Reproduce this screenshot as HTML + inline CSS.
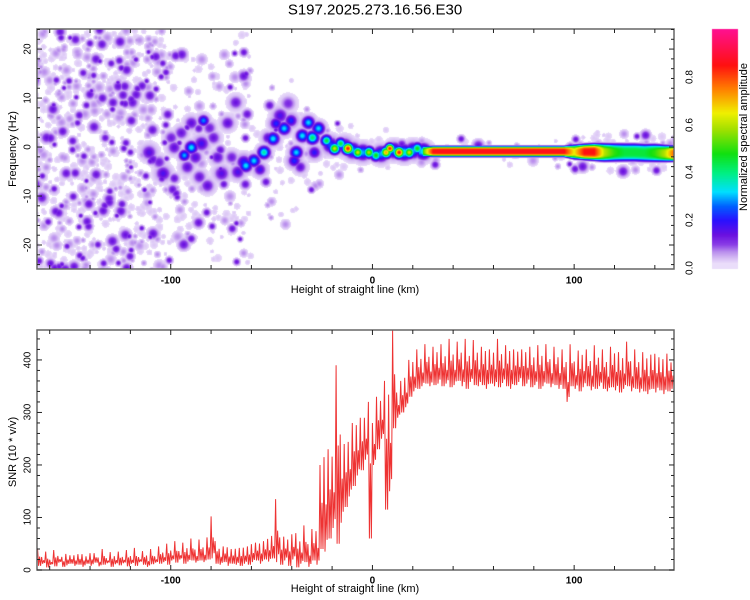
<!DOCTYPE html>
<html><head><meta charset="utf-8">
<style>
body{margin:0;background:#fff;}
#root{position:relative;width:750px;height:600px;overflow:hidden;font-family:"Liberation Sans",sans-serif;color:#000;}
.t{position:absolute;white-space:nowrap;font-size:10px;font-weight:bold;}
.rot{transform:translate(-50%,-50%) rotate(-90deg);}
.hc{transform:translate(-50%,-50%);}
canvas,svg{position:absolute;left:0;top:0;}
</style></head>
<body>
<div id="root">
<canvas id="heat" width="750" height="600"></canvas>
<svg id="svg" width="750" height="600"></svg>
<div class="t hc" style="left:375px;top:10px;font-size:15px;font-weight:normal">S197.2025.273.16.56.E30</div>
<div class="t rot" style="left:13px;top:149px;font-size:11px;font-weight:normal">Frequency (Hz)</div>
<div class="t hc" style="left:355px;top:290px;font-size:11px;font-weight:normal">Height of straight line (km)</div>
<div class="t rot" style="left:13px;top:452px;font-size:11px;font-weight:normal">SNR (10 * v/v)</div>
<div class="t hc" style="left:355px;top:589px;font-size:11px;font-weight:normal">Height of straight line (km)</div>
<div class="t rot" style="left:744px;top:137px;font-size:11px;font-weight:normal">Normalized spectral amplitude</div>
<div id="labels"></div>
</div>
<script>
// ---------- data ----------
const xTicks=[-100,0,100];
const hzTicks=[-20,-10,0,10,20];
const snrTicks=[0,100,200,300,400];
const cbTicks=[0.0,0.2,0.4,0.6,0.8];
const cbTickLabels=["0.0","0.2","0.4","0.6","0.8"];
// SNR envelope per 2 km bin starting at -166
const snrStartKm=-166;
const snrHi=[40,28,35,22,38,30,25,36,28,33, 30,36,26,38,32,28,40,25,34,30, 35,28,38,30,42,27,36,33,40,29,
 45,38,50,42,55,40,52,48,60,45, 58,50,62,122,55,48,45,52,40,48, 42,50,45,58,52,60,55,70,65,165,
 62,75,58,80,70,65,85,60,78,90, 200,260,230,250,390,300,240,270,280,300, 290,310,320,300,330,340,360,380,457,350,
 360,380,400,410,420,415,430,420,425,430, 430,420,440,425,435,430,440,420,438,430, 425,435,420,430,440,425,428,435,420,430,
 420,430,425,418,428,422,430,415,425,420, 420,415,430,410,418,425,420,412,428,418, 420,410,425,430,415,418,435,412,420,410,
 415,420,410,430,405,418,412,408,420];
const snrLo=[8,12,5,10,7,14,6,9,12,8, 10,6,12,8,14,7,10,13,6,11, 9,13,7,12,8,15,10,6,11,14,
 12,15,10,18,14,20,12,16,18,14, 18,15,20,22,12,10,15,8,12,10, 8,12,10,15,18,12,20,16,22,15,
 10,18,8,20,5,12,15,6,18,10, 40,35,60,80,50,90,120,140,160,180, 190,210,60,200,230,250,115,150,270,290,
 300,310,330,340,345,350,355,350,352,355, 350,355,348,352,360,350,345,358,352,350, 352,345,355,350,348,356,350,345,352,358,
 350,355,348,352,345,350,355,348,352,345, 345,320,350,345,340,348,350,342,345,350, 345,340,348,342,338,345,350,340,345,338,
 340,335,345,338,342,335,340,345,350];
// spectral blobs: km, Hz, amplitude, size(px)
const blobKm=[-111,-104,-98.5,-85,-82,-75,-72,-68,-67,-106,-95,-92,-88,-79,-77,-70,-100,-90,-86,-81,
 -90,-93.5,-84,-63,
 -64,-59,-54,-49.5,-48,-44,-40.6,-35,-32,-30,-27,-38,-39,-29,-46,-42,-56,-52,-36,
 -23,-19,-16,-12.4,-7.5,-2,1.5,6.5,8.4,13,18,22,
 -21,-14,-10,-5,4,10.5,15.5,20,25];
const blobHz=[-1,-5.3,0,0.8,-7.8,-5.3,5,9.2,-5,-3,3,-4,-2,2,-2,-2,2,5,-6,4,
 0,-1.6,5.5,-3.7,
 -3,-2.7,-1,1.8,4.9,3.9,5.5,2.4,5.1,2,3.9,-1,-2.7,-1,6.5,9,-4.5,2,-4,
 1.4,-0.2,0.8,-0.2,-1,-1,-1.6,-1,-0.2,-1,-1,-0.2,
 0.5,0.3,-0.6,-1,-1.3,-0.6,-1,-0.6,-0.8];
const blobAmp=[0.16,0.17,0.15,0.18,0.15,0.16,0.15,0.14,0.17,0.13,0.14,0.15,0.16,0.14,0.15,0.13,0.13,0.15,0.14,0.13,
 0.33,0.30,0.28,0.33,
 0.22,0.32,0.38,0.33,0.22,0.32,0.22,0.33,0.32,0.42,0.32,0.32,0.22,0.2,0.17,0.12,0.18,0.16,0.15,
 0.45,0.62,0.45,0.85,0.62,0.6,0.48,0.72,0.85,0.85,0.62,0.48,
 0.25,0.25,0.3,0.3,0.3,0.3,0.35,0.3,0.35];
const blobSize=[5,5,4.5,5,4.5,5,4.5,4.5,4.5,4.5,4.5,4.5,4.5,4.5,4.5,4.5,4.5,4.5,4.5,4.5,
 4,3.5,3.5,4,
 4.5,4,4,4,4,4,4,4,4,4,4,4,4,4,5,5,4,4,4,
 3.5,3.5,3.5,3.5,3.5,3.5,3.5,3.5,3,3.5,3.5,3.5,
 5,5,5,5,5,5,5,5,5];
// continuous ridge
const bandKm=[25,30,35,40,45,50,55,60,65,70,75,80,85,90,95,100,105,110,115,120,125,130,135,140,145,150];
const bandHz=[-0.8,-0.8,-0.8,-0.8,-0.8,-0.8,-0.8,-0.8,-0.8,-0.8,-0.8,-0.8,-0.8,-0.8,-0.8,-0.9,-0.9,-0.9,-1,-1,-1,-1,-1.1,-1.1,-1.2,-1.2];
const bandAmp=[0.5,0.85,0.86,0.86,0.86,0.86,0.86,0.86,0.86,0.86,0.86,0.86,0.86,0.86,0.86,0.65,0.85,0.85,0.6,0.5,0.45,0.45,0.45,0.5,0.6,0.8];
const bandHalf=[0.9,0.9,0.9,0.9,0.9,0.9,0.9,0.9,0.9,0.9,0.9,0.9,0.9,0.9,0.9,1.2,1.3,1.4,1.5,1.5,1.5,1.5,1.5,1.5,1.4,1.3];
// background speckle density per 10 km bin from -170
const speckleBinKm=[-170,-160,-150,-140,-130,-120,-110,-100,-90,-80,-70,-60,-50,-40,-30,-20,-10,0,10,20,30,40,50,60,70,80,90,100,110,120,130,140];
const speckleCount=[115,130,130,130,130,120,95,55,40,40,55,18,18,14,12,10,8,6,5,4,4,3,3,3,3,3,8,12,16,16,16,16];
const speckleSpread=[25,25,25,25,25,25,25,20,20,22,24,15,15,12,8,6,5,5,3,3,3,3,3,3,3,3,3,3.5,4,4,4,4];

// ---------- axes ----------
const PX0=37,PX1=674,KM0=-166.3,KM1=149.5;
const TY0=29,TY1=269,HZ0=-24.9,HZ1=24.1;
const BY0=330,BY1=570,S0=0,S1=457;
const xs=k=>PX0+(k-KM0)/(KM1-KM0)*(PX1-PX0);
const yHz=h=>TY1-(h-HZ0)/(HZ1-HZ0)*(TY1-TY0);
const ySnr=s=>BY1-(s-S0)/(S1-S0)*(BY1-BY0);
const CBX0=712,CBX1=738,CBY0=29,CBY1=268;
const yCb=v=>CBY1-v*(CBY1-CBY0);

const stops=[[0.015,[239,230,251]],[0.04,[217,194,245]],[0.07,[185,141,237]],[0.10,[138,61,230]],[0.14,[106,16,224]],
 [0.2,[42,16,255]],[0.26,[0,96,255]],[0.32,[0,224,255]],[0.4,[0,240,128]],[0.48,[16,224,16]],[0.58,[160,224,0]],
 [0.65,[240,240,0]],[0.75,[255,128,0]],[0.85,[255,16,16]],[1.0,[255,16,144]]];
function cmap(v){
  if(v<0.02) return null;
  for(let i=1;i<stops.length;i++){ if(v<=stops[i][0]){const a=stops[i-1],b=stops[i];const t=(v-a[0])/(b[0]-a[0]);
    return [0,1,2].map(j=>Math.round(a[1][j]+(b[1][j]-a[1][j])*t));}}
  return stops[stops.length-1][1];
}

// ---------- heatmap ----------
const W=PX1-PX0,H=TY1-TY0;
const grid=new Float32Array(W*H);
function stamp(cx,cy,amp,s,p){
  const r=Math.ceil(s*3);
  for(let y=Math.max(0,Math.floor(cy-r));y<=Math.min(H-1,cy+r);y++)
   for(let x=Math.max(0,Math.floor(cx-r));x<=Math.min(W-1,cx+r);x++){
    const d=Math.hypot(x-cx,y-cy)/s;const v=amp*Math.exp(-Math.pow(d,p)/2);
    const i=y*W+x; if(v>grid[i]) grid[i]=v;
   }
}
// speckle texture (deterministic)
let seed=12345;const rnd=()=>{seed=(seed*1103515245+12345)%2147483648;return seed/2147483648;};
speckleBinKm.forEach((k0,bi)=>{
  for(let n=0;n<speckleCount[bi];n++){
    const k=k0+rnd()*10; const hz=-0.9+(rnd()*2-1)*speckleSpread[bi];
    const r=rnd(); const amp=r<0.6?0.035:(r<0.86?0.07:0.14);
    stamp(xs(k)-PX0,yHz(hz)-TY0,amp,1.8+rnd()*2.2,2);
  }
});
blobKm.forEach((k,i)=>{
  const cx=xs(k)-PX0,cy=yHz(blobHz[i])-TY0;
  stamp(cx,cy,Math.min(0.11,blobAmp[i]*0.5),blobSize[i]*1.5,2);
  stamp(cx,cy,blobAmp[i],blobSize[i],2);
});
// ridge
for(let x=0;x<W;x++){
  const km=KM0+(x+0.5)/W*(KM1-KM0);
  if(km<bandKm[0]-2) continue;
  let j=0; while(j<bandKm.length-2&&km>bandKm[j+1]) j++;
  const t=Math.max(0,Math.min(1,(km-bandKm[j])/(bandKm[j+1]-bandKm[j])));
  const lerp=a=>a[j]+(a[j+1]-a[j])*t;
  const amp=lerp(bandAmp)*(km<bandKm[0]?0.6:1), c=yHz(lerp(bandHz))-TY0, w=lerp(bandHalf)*(H/(HZ1-HZ0));
  for(let y=Math.max(0,Math.floor(c-w*3));y<=Math.min(H-1,c+w*3);y++){
    const d=Math.abs(y-c)/w; const v=amp*Math.exp(-Math.pow(d,4)*0.7);
    const i=y*W+x; if(v>grid[i]) grid[i]=v;
  }
}
const cv=document.getElementById('heat');const ctx=cv.getContext('2d');
const img=ctx.createImageData(W,H);
for(let i=0;i<W*H;i++){const c=cmap(grid[i]);const o=i*4;
  if(c){img.data[o]=c[0];img.data[o+1]=c[1];img.data[o+2]=c[2];img.data[o+3]=255;}
  else{img.data[o]=255;img.data[o+1]=255;img.data[o+2]=255;img.data[o+3]=255;}}
ctx.putImageData(img,PX0,TY0);
// colorbar
for(let y=CBY0;y<=CBY1;y++){const v=(CBY1-y)/(CBY1-CBY0);const c=cmap(Math.max(v,0.021))||[255,255,255];
  ctx.fillStyle=`rgb(${c[0]},${c[1]},${c[2]})`;ctx.fillRect(CBX0,y,CBX1-CBX0,1);}

// ---------- SVG ----------
const NS='http://www.w3.org/2000/svg';const svg=document.getElementById('svg');
function el(tag,attrs,parent){const e=document.createElementNS(NS,tag);for(const k in attrs)e.setAttribute(k,attrs[k]);(parent||svg).appendChild(e);return e;}
// SNR line: each 2-km bin drawn as hi, lo, partial, lo zigzag
const frac=[0,1,0.45,1, 0.2,1,0.6,0.9];
let pts=[];
snrHi.forEach((h,i)=>{const k=snrStartKm+i*2;const lo=snrLo[i];
  for(let q=0;q<4;q++){const kk=k+q*0.5;if(kk>KM1)break;
    const f=frac[(i%2)*4+q];const v=h-(h-lo)*f;
    pts.push(xs(kk).toFixed(1)+','+ySnr(v).toFixed(1));}});
const line=el('polyline',{points:pts.join(' '),fill:'none',stroke:'#ee3333','stroke-width':1,'stroke-linejoin':'bevel'});


// frames & ticks
function frame(y0,y1,name){const r=el('rect',{x:PX0,y:y0,width:PX1-PX0,height:y1-y0,fill:'none',stroke:'#666','stroke-width':1.5});
  
  }
frame(TY0,TY1,'top-plot-frame');frame(BY0,BY1,'bottom-plot-frame');
const tg=el('g',{stroke:'#222','stroke-width':1});


for(let k=-160;k<=140;k+=20){const x=xs(k);const L=(k%100===0)?5:4;
  [[TY0,1],[TY1,-1],[BY0,1],[BY1,-1]].forEach(([y,d])=>el('line',{x1:x,x2:x,y1:y,y2:y+d*L},tg));}
for(let h=-24;h<=24;h+=2){const y=yHz(h);const L=(h%10===0)?5:3;
  el('line',{x1:PX0,x2:PX0+L,y1:y,y2:y},tg);el('line',{x1:PX1,x2:PX1-L,y1:y,y2:y},tg);}
for(let s=0;s<=440;s+=20){const y=ySnr(s);const L=(s%100===0)?5:3;
  el('line',{x1:PX0,x2:PX0+L,y1:y,y2:y},tg);el('line',{x1:PX1,x2:PX1-L,y1:y,y2:y},tg);}
// labels
const lab=document.getElementById('labels');
function label(txt,x,y,cls,name,w){const d=document.createElement('div');d.className='t '+cls;d.textContent=txt;d.style.left=x+'px';d.style.top=y+'px';
  if(w) d.style.fontWeight=w;
  
  
  lab.appendChild(d);}
xTicks.forEach(k=>{label(String(k),xs(k),281,'hc','top-x-tick-label');label(String(k),xs(k),581,'hc','bottom-x-tick-label');});
hzTicks.forEach(h=>label(String(h),28,yHz(h),'rot','top-y-tick-label','normal'));
snrTicks.forEach(s=>label(String(s),28,ySnr(s),'rot','bottom-y-tick-label','normal'));
cbTicks.forEach((v,i)=>label(cbTickLabels[i],690,yCb(v),'rot','colorbar-tick-label','normal'));
</script>
</body></html>
